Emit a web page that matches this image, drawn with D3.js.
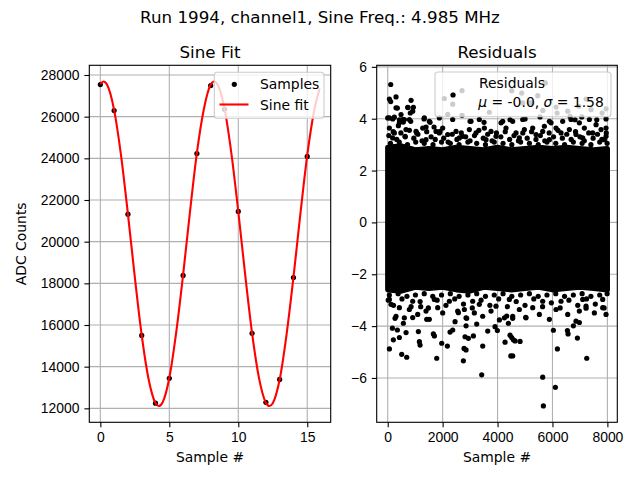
<!DOCTYPE html>
<html>
<head>
<meta charset="utf-8">
<script src="https://cdn.jsdelivr.net/npm/d3@7"></script>
<style>
  body { margin: 0; background: #fff; }
  svg { font-family: "DejaVu Sans", sans-serif; }
  .tick line { stroke: #000; stroke-width: 1.1; }
  .tick text { fill: #000; font-size: 13.9px; }
</style>
</head>
<body>
<svg id="fig" width="640" height="480"></svg>
<script>
// samples
var sampleX = [0, 1, 2, 3, 4, 5, 6, 7, 8, 9, 10, 11, 12, 13, 14, 15];
var sampleY = [27540, 26290, 21320, 15500, 12250, 13440, 18380, 24230,
  27490, 26350, 21450, 15600, 12290, 13390, 18280, 24090];

// sine fit curve
var fitX = [0, 0.23, 0.5, 1, 1.5, 2, 2.5, 3, 3.5, 4, 4.24, 4.5, 5, 5.5, 6, 6.5,
  7, 7.5, 8, 8.25, 8.5, 9, 9.5, 10, 10.5, 11, 11.5, 12, 12.26, 12.5, 13, 13.5,
  14, 14.5, 15, 15.5, 15.9];
var fitY = [27564, 27690, 27516, 26315, 24142, 21326, 18294, 15508, 13395,
  12248, 12110, 12271, 13459, 15642, 18407, 21441, 24260, 26346, 27541, 27690,
  27541, 26384, 24240, 21448, 18416, 15608, 13463, 12271, 12110, 12247, 13382,
  15542, 18287, 21320, 24155, 26284, 27365];

var leftXTicks = [0, 5, 10, 15];
var leftYTicks = [12000, 14000, 16000, 18000, 20000, 22000, 24000, 26000, 28000];

// residuals: solid core of the cloud (edges per 500 samples)
var bandX = [0, 500, 1000, 1500, 2000, 2500, 3000, 3500, 4000, 4500, 5000,
  5500, 6000, 6500, 7000, 7500, 8000];
var bandTop = [2.9, 2.95, 2.8, 2.85, 2.8, 2.9, 2.85, 2.8, 2.9, 2.8, 2.85, 2.9,
  2.85, 2.9, 2.85, 2.8, 2.85];
var bandBottom = [-2.6, -2.65, -2.5, -2.55, -2.5, -2.6, -2.65, -2.5, -2.55,
  -2.6, -2.55, -2.5, -2.6, -2.55, -2.5, -2.55, -2.6];

// residuals above the core [sample, residual]
var residTop = [
  [109, 5.32], [61, 4.76], [109, 4.66], [303, 4.84], [850, 4.71], [352, 4.41],
  [740, 4.43], [935, 4.44], [823, 4.22], [0, 4.03], [182, 3.99], [546, 3.97],
  [425, 3.96], [570, 3.87], [838, 3.9], [388, 3.73], [1323, 3.99], [1542, 3.86],
  [1396, 3.68], [1687, 3.68], [1906, 3.51], [2390, 4.93],
  [2707, 5.08], [2063, 4.78], [2367, 4.56], [2185, 4.17], [2707, 4.13],
  [3702, 4.25], [4516, 5.08], [4880, 4.99], [4917, 4.61], [5245, 4.61],
  [5742, 5.38], [5464, 4.89], [5160, 4.61], [5647, 4.32], [6131, 4.45],
  [6168, 4.22], [6557, 4.29], [6958, 4.48], [7406, 4.35], [7807, 4.22],
  [7953, 4.38], [7224, 4.76],
  [2999, 3.9], [3508, 3.86], [4188, 3.9], [4455, 3.96], [5002, 3.99],
  [5548, 4.07], [5888, 3.9], [6640, 4.09], [6822, 3.96], [7065, 4.07],
  [7612, 3.96], [7951, 3.99],
  [302, 4.42], [727, 4.44], [909, 4.29], [60, 4.03], [242, 4.06], [485, 4.16],
  [606, 3.97], [788, 3.97], [424, 3.84], [1334, 4.03], [1516, 3.9],
  [1881, 4.03], [2366, 3.97], [3034, 3.9], [3337, 3.97], [4127, 3.84],
  [4551, 3.9], [4916, 3.97], [5280, 3.64], [5705, 3.71], [5948, 3.84],
  [6372, 3.9], [6676, 3.97], [6979, 3.84], [7344, 3.97], [7587, 3.77],
  [7951, 3.64],
  [60, 3.64], [242, 3.45], [667, 3.58], [1031, 3.51], [1274, 3.64],
  [1759, 3.51], [2002, 3.64], [2184, 3.39], [2488, 3.51], [2730, 3.32],
  [2973, 3.58], [3216, 3.45], [3520, 3.64], [3762, 3.51], [3944, 3.32],
  [4308, 3.64], [4673, 3.45], [4977, 3.58], [5402, 3.39], [5644, 3.51],
  [6130, 3.64], [6312, 3.45], [6615, 3.58], [6858, 3.39], [7162, 3.64],
  [7465, 3.45], [7769, 3.58], [7951, 3.32],
  [181, 3.26], [1395, 3.19], [2609, 3.26], [3580, 3.19], [4794, 3.26],
  [5887, 3.19], [7101, 3.26], [7890, 3.19], [1056, 3.45], [631, 3.32],
  [40, 3.35], [200, 3.5], [330, 3.2], [480, 3.45], [640, 3.3], [790, 3.55],
  [950, 3.25], [1100, 3.4], [1250, 3.15], [1420, 3.5], [1580, 3.3],
  [1730, 3.2], [1880, 3.45], [2040, 3.25], [2200, 3.1], [2350, 3.4],
  [2520, 3.2], [2680, 3.45], [2840, 3.3], [3000, 3.15], [3160, 3.35],
  [3320, 3.55], [3480, 3.25], [3640, 3.4], [3800, 3.15], [3960, 3.45],
  [4120, 3.3], [4280, 3.5], [4440, 3.2], [4600, 3.35], [4760, 3.15],
  [4920, 3.45], [5080, 3.25], [5240, 3.5], [5400, 3.2], [5560, 3.35],
  [5720, 3.15], [5880, 3.45], [6040, 3.3], [6200, 3.55], [6360, 3.25],
  [6520, 3.4], [6680, 3.2], [6840, 3.5], [7000, 3.3], [7160, 3.15],
  [7320, 3.45], [7480, 3.25], [7640, 3.4], [7800, 3.2], [7960, 3.45],
  [100, 3.05], [420, 3.1], [720, 3.0], [1020, 3.1], [1330, 3.05], [1650, 3.0],
  [1960, 3.1], [2280, 3.05], [2600, 3.0], [2920, 3.1], [3240, 3.05],
  [3560, 3.0], [3880, 3.1], [4200, 3.05], [4520, 3.0], [4840, 3.1],
  [5160, 3.05], [5480, 3.0], [5800, 3.1], [6120, 3.05], [6440, 3.0],
  [6760, 3.1], [7080, 3.05], [7400, 3.0], [7720, 3.1], [7990, 3.05]
];

// residuals below the core [sample, residual]
var residBottom = [
  [61, -4.88], [170, -4.08], [206, -4.53], [267, -3.7], [352, -4.15],
  [425, -4.44], [510, -5.09], [692, -5.2], [668, -4.25], [570, -3.89],
  [910, -3.67], [1117, -4.21], [1153, -4.6], [1178, -4.73], [1202, -3.25],
  [1420, -3.74], [1663, -4.3], [1700, -4.38], [1785, -5.24], [1967, -4.66],
  [2173, -4.77], [2270, -4.23], [2367, -4.15], [2452, -3.83], [2574, -3.48],
  [2756, -5.34], [2780, -4.86], [2853, -4.92], [2816, -4.41], [2853, -3.99],
  [2877, -3.7], [2938, -4.47], [3120, -4.38], [3241, -3.92], [3423, -5.88],
  [3460, -4.77], [3642, -4.19], [3909, -4.02], [3994, -4.17], [4273, -4.62],
  [4334, -3.61], [4455, -4.35], [4480, -5.15], [4552, -5.15], [4516, -4.44],
  [4577, -4.53], [4637, -4.57], [4820, -4.59], [4552, -3.7], [4067, -3.76],
  [4395, -3.89], [5026, -3.66], [5645, -5.97], [5669, -7.08], [6106, -6.36],
  [6034, -4.16], [6179, -4.88], [6544, -4.17], [6568, -4.3], [6762, -3.99],
  [6908, -4.46], [7248, -5.24], [6981, -3.86], [7224, -3.31],
  [120, -3.16], [424, -3.29], [303, -3.62], [606, -3.68], [788, -3.36],
  [1092, -3.55], [1395, -3.42], [1516, -3.74], [1820, -3.29], [2002, -3.49],
  [2245, -3.04], [2548, -3.42], [2791, -3.36], [2852, -3.68], [3155, -3.49],
  [3337, -3.16], [3459, -3.62], [3762, -3.42], [3944, -3.23], [4249, -3.68],
  [4551, -3.62], [4794, -3.36], [5037, -3.68], [5280, -3.29], [5523, -3.55],
  [5887, -3.74], [6130, -3.36], [6312, -3.04], [6555, -3.55], [6858, -3.81],
  [6979, -3.42], [7222, -3.23], [7526, -3.49], [7829, -3.29], [7951, -3.55],
  [60, -2.97], [910, -3.04], [1699, -2.97], [3094, -3.04], [4430, -2.97],
  [5644, -3.04], [7101, -2.97], [7829, -2.97],
  [60, -2.8], [380, -2.75], [700, -2.85], [1010, -2.8], [1330, -2.75],
  [1640, -2.85], [1960, -2.8], [2280, -2.75], [2600, -2.85], [2920, -2.8],
  [3240, -2.75], [3560, -2.85], [3880, -2.8], [4200, -2.75], [4520, -2.85],
  [4840, -2.8], [5160, -2.75], [5480, -2.85], [5800, -2.8], [6120, -2.75],
  [6440, -2.85], [6760, -2.8], [7080, -2.75], [7400, -2.85], [7720, -2.8],
  [7990, -2.75],
  [20, -3.0], [210, -3.2], [520, -2.95], [850, -3.25], [1180, -3.05],
  [1480, -3.3], [1800, -3.0], [2120, -3.2], [2440, -2.95], [2760, -3.15],
  [3080, -3.3], [3400, -3.0], [3720, -3.2], [4040, -2.95], [4360, -3.25],
  [4680, -3.05], [5000, -3.2], [5320, -2.95], [5640, -3.25], [5960, -3.1],
  [6280, -3.3], [6600, -3.0], [6920, -3.2], [7240, -2.95], [7560, -3.15],
  [7880, -3.3]
];

var rightXTicks = [0, 2000, 4000, 6000, 8000];
var rightYTicks = [-6, -4, -2, 0, 2, 4, 6];

var svg = d3.select("#fig");
var dotR = 2.6;

// panel boxes
var L = {left: 89.3, right: 330.7, top: 65.3, bottom: 422.3},
    R = {left: 376.7, right: 617.3, top: 65.3, bottom: 422.3};

var xL = d3.scaleLinear().domain([-0.8, 16.7]).range([L.left, L.right]),
    yL = d3.scaleLinear().domain([11330, 28465]).range([L.bottom, L.top]);
var xR = d3.scaleLinear().domain([-401, 8361]).range([R.left, R.right]),
    yR = d3.scaleLinear().domain([-7.71, 6.06]).range([R.bottom, R.top]);

function drawGrid(g, x, y, xt, yt, box) {
  g.selectAll(".gx").data(xt).enter().append("line")
    .attr("x1", function(d) { return x(d); }).attr("x2", function(d) { return x(d); })
    .attr("y1", box.top).attr("y2", box.bottom)
    .attr("stroke", "#b0b0b0").attr("stroke-width", 1.1);
  g.selectAll(".gy").data(yt).enter().append("line")
    .attr("y1", function(d) { return y(d); }).attr("y2", function(d) { return y(d); })
    .attr("x1", box.left).attr("x2", box.right)
    .attr("stroke", "#b0b0b0").attr("stroke-width", 1.1);
}

function drawAxes(g, x, y, xt, yt, box, fmt) {
  g.append("g")
    .attr("transform", "translate(0," + box.bottom + ")")
    .call(d3.axisBottom(x).tickValues(xt).tickSize(4.9).tickPadding(4.9).tickFormat(fmt))
    .call(function(a) { a.select(".domain").remove(); });
  g.append("g")
    .attr("transform", "translate(" + box.left + ",0)")
    .call(d3.axisLeft(y).tickValues(yt).tickSize(4.9).tickPadding(4.9).tickFormat(fmt))
    .call(function(a) { a.select(".domain").remove(); });
  g.append("rect")
    .attr("x", box.left).attr("y", box.top)
    .attr("width", box.right - box.left).attr("height", box.bottom - box.top)
    .attr("fill", "none").attr("stroke", "#000").attr("stroke-width", 1.1);
}

var fmt = d3.format("d");

// ---- left panel: sine fit ----
var left = svg.append("g");
drawGrid(left, xL, yL, leftXTicks, leftYTicks, L);

left.selectAll(".sample")
    .data(sampleX)
  .enter().append("circle")
    .attr("class", "sample")
    .attr("cx", function(d) { return xL(d); })
    .attr("cy", function(d, i) { return yL(sampleY[i]); })
    .attr("r", dotR)
    .attr("fill", "#000");

var fitLine = d3.line()
  .x(function(d) { return xL(d); })
  .y(function(d, i) { return yL(fitY[i]); })
  .curve(d3.curveMonotoneX);

left.append("path")
  .attr("d", fitLine(fitX))
  .attr("fill", "none")
  .attr("stroke", "#ff0000")
  .attr("stroke-width", 2.1);

drawAxes(left, xL, yL, leftXTicks, leftYTicks, L, fmt);

// legend left
var legL = left.append("g");
legL.append("rect")
  .attr("x", 214.3).attr("y", 72.3).attr("width", 109.7).attr("height", 46)
  .attr("rx", 3).attr("fill", "#fff").attr("fill-opacity", 0.8)
  .attr("stroke", "#cccccc").attr("stroke-width", 1.1);
legL.append("circle").attr("cx", 234.3).attr("cy", 84.3).attr("r", dotR).attr("fill", "#000");
legL.append("line").attr("x1", 219.5).attr("x2", 248.5).attr("y1", 104.5).attr("y2", 104.5)
  .attr("stroke", "#ff0000").attr("stroke-width", 2.1);
legL.append("text").attr("x", 260).attr("y", 84.3).attr("dy", "0.36em")
  .attr("font-size", "13.9px").text("Samples");
legL.append("text").attr("x", 260).attr("y", 104.5).attr("dy", "0.36em")
  .attr("font-size", "13.9px").text("Sine fit");

// ---- right panel: residuals ----
var right = svg.append("g");
drawGrid(right, xR, yR, rightXTicks, rightYTicks, R);

var band = d3.area()
  .x(function(d) { return xR(d); })
  .y0(function(d, i) { return yR(bandBottom[i]); })
  .y1(function(d, i) { return yR(bandTop[i]); });

right.append("path")
  .attr("d", band(bandX))
  .attr("fill", "#000")
  .attr("stroke", "#000")
  .attr("stroke-width", dotR * 2)
  .attr("stroke-linejoin", "round");

right.selectAll(".resid")
    .data(residTop.concat(residBottom))
  .enter().append("circle")
    .attr("class", "resid")
    .attr("cx", function(d) { return xR(d[0]); })
    .attr("cy", function(d) { return yR(d[1]); })
    .attr("r", dotR)
    .attr("fill", "#000");

drawAxes(right, xR, yR, rightXTicks, rightYTicks, R, fmt);

// legend right
var legR = right.append("g");
legR.append("rect")
  .attr("x", 435).attr("y", 72).attr("width", 176).attr("height", 44.7)
  .attr("rx", 3).attr("fill", "#fff").attr("fill-opacity", 0.8)
  .attr("stroke", "#cccccc").attr("stroke-width", 1.1);
legR.append("circle").attr("cx", 453).attr("cy", 95).attr("r", dotR).attr("fill", "#000");
legR.append("text").attr("x", 479).attr("y", 83.3).attr("dy", "0.36em")
  .attr("font-size", "13.9px").text("Residuals");
var stat = legR.append("text").attr("x", 478.3).attr("y", 101.7).attr("dy", "0.36em")
  .attr("font-size", "13.9px");
stat.append("tspan").attr("font-style", "italic").text("μ");
stat.append("tspan").text(" = -0.0, ");
stat.append("tspan").attr("font-style", "italic").text("σ");
stat.append("tspan").text(" = 1.58");

// ---- titles and labels ----
svg.append("text").attr("x", 320).attr("y", 17).attr("dy", "0.36em")
  .attr("text-anchor", "middle").attr("font-size", "16.7px")
  .text("Run 1994, channel1, Sine Freq.: 4.985 MHz");
svg.append("text").attr("x", (L.left + L.right) / 2).attr("y", 51.7).attr("dy", "0.36em")
  .attr("text-anchor", "middle").attr("font-size", "16.7px").text("Sine Fit");
svg.append("text").attr("x", (R.left + R.right) / 2).attr("y", 51.7).attr("dy", "0.36em")
  .attr("text-anchor", "middle").attr("font-size", "16.7px").text("Residuals");
svg.append("text").attr("x", (L.left + L.right) / 2).attr("y", 457.3).attr("dy", "0.36em")
  .attr("text-anchor", "middle").attr("font-size", "13.9px").text("Sample #");
svg.append("text").attr("x", (R.left + R.right) / 2).attr("y", 457.3).attr("dy", "0.36em")
  .attr("text-anchor", "middle").attr("font-size", "13.9px").text("Sample #");
svg.append("text")
  .attr("transform", "translate(21," + (L.top + L.bottom) / 2 + ") rotate(-90)")
  .attr("dy", "0.36em").attr("text-anchor", "middle").attr("font-size", "13.9px")
  .text("ADC Counts");
</script>
</body>
</html>
